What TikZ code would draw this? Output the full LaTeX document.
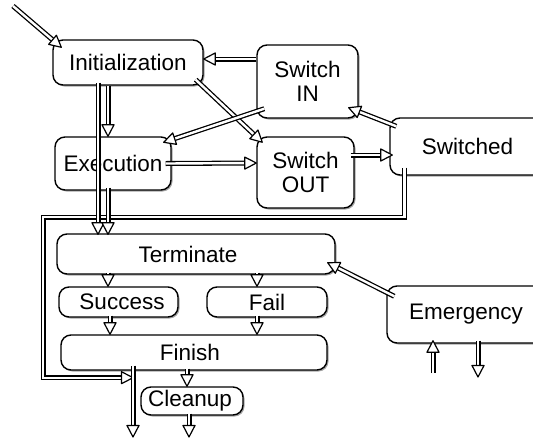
\documentclass[tikz,border=0pt]{standalone}
\usepackage{fontspec}
\setmainfont{Liberation Sans}
\usetikzlibrary{shadows,decorations.markings}
\tikzset{
  box/.style={draw=black, line width=1.4pt, rounded corners=10pt, fill=white,
    drop shadow={shadow xshift=1.5pt, shadow yshift=-1.5pt, opacity=0.35, fill=black},
    inner sep=0pt, align=center, font=\fontsize{22.5}{25}\selectfont},
  dbl/.style={draw=white, line width=2.4pt, shorten >=10pt,
    preaction={draw=black, line width=5pt, shorten >=10pt},
    postaction={decorate, decoration={markings, mark=at position 1 with {
      \draw[black, line width=1.2pt, fill=white, line join=round] (0pt,0pt) -- (-11.5pt,6pt) -- (-11.5pt,-6pt) -- cycle;}}}}
}
\begin{document}
\begin{tikzpicture}[x=1pt,y=-1pt]
\useasboundingbox (0,0) rectangle (533,437);
\clip (0,0) rectangle (533,437);
\node[box, minimum width=155pt, minimum height=57pt] (swd) at (467.5,146.5) {Switched};
\node[box, minimum width=158pt, minimum height=57pt] (emer) at (466,314.5) {Emergency};
\node[box, minimum width=150pt, minimum height=45pt] (init) at (128,62.5) {Initialization};
\node[box, minimum width=101pt, minimum height=73pt] (swin) at (307.5,81.5) {Switch\\[-1pt]IN};
\node[box, minimum width=116pt, minimum height=53pt] (exec) at (113,163.5) {Execution};
\node[box, minimum width=97pt, minimum height=71pt] (swout) at (305.5,172.5) {Switch\\[-1pt]OUT};
\node[box, minimum width=278pt, minimum height=40pt] (term) at (196,254) {\hspace*{-16pt}Terminate};
\node[box, minimum width=119pt, minimum height=30pt] (succ) at (118.5,302) {\hspace*{7pt}Success};
\node[box, minimum width=120pt, minimum height=30pt] (fail) at (267,302) {Fail};
\node[box, minimum width=266pt, minimum height=35pt] (fin) at (194,352.5) {\hspace*{-8pt}Finish};
\node[box, minimum width=102pt, minimum height=28pt] (clean) at (192,401) {\hspace*{-4pt}Cleanup};

\coordinate (in) at (13,6);
\coordinate (lp) at (43,217);
\coordinate (out1) at (133,437);
\coordinate (out2) at (189,437);
\coordinate (up0) at (433,373);
\coordinate (dn1) at (478,377);

% loop from Switched back to the exit line
\draw[dbl] ([xshift=15pt,yshift=8pt]swd.south west) |- (lp) |- ([xshift=-61pt,yshift=-7pt]fin.south);

\draw[dbl] (in) -- ([xshift=9pt,yshift=-8pt]init.north west);
\draw[dbl] ([yshift=22.5pt]swin.west) -- ([yshift=3.5pt]init.east);
\draw[dbl] ([xshift=-8pt,yshift=6pt]init.south east) -- ([xshift=6pt,yshift=-6pt]swout.north west);
\draw[dbl] ([xshift=8pt,yshift=10pt]swin.south west) -- ([xshift=-8pt,yshift=-6pt]exec.north east);
\draw[dbl] ([xshift=-20pt]init.south) -- ([xshift=-5pt]exec.north);
\draw[dbl] ([xshift=-30pt,yshift=3pt]init.south) -- ([xshift=-98pt,yshift=-1pt]term.north);
\draw[dbl] ([xshift=-5pt,yshift=3pt]exec.south) -- ([xshift=-88pt,yshift=-1pt]term.north);
\draw[dbl] ([xshift=-6pt]exec.east) -- ([yshift=9.5pt]swout.west);
\draw[dbl] ([xshift=-4pt,yshift=17.5pt]swout.east) -- ([xshift=3pt,yshift=-8.5pt]swd.west);
\draw[dbl] ([xshift=7pt,yshift=-9pt]swd.north west) -- ([xshift=-10pt,yshift=11pt]swin.south east);
\draw[dbl] ([xshift=-61pt,yshift=5pt]fin.south) -- (out1);
\draw[dbl] ([xshift=-88pt,yshift=2pt]term.south) -- ([xshift=-10.5pt]succ.north);
\draw[dbl] ([xshift=61pt,yshift=2pt]term.south) -- ([xshift=-10pt]fail.north);
\draw[dbl] ([xshift=-8.5pt,yshift=2pt]succ.south) -- ([xshift=-84pt]fin.north);
\draw[dbl] ([xshift=-10pt,yshift=2pt]fail.south) -- ([xshift=63pt]fin.north);
\draw[dbl] ([xshift=-7pt,yshift=2pt]fin.south) -- ([xshift=-5pt]clean.north);
\draw[dbl] ([xshift=-3pt,yshift=2pt]clean.south) -- (out2);
\draw[dbl] ([xshift=8pt,yshift=-11pt]emer.north west) -- ([xshift=-8pt,yshift=12pt]term.south east);
\draw[dbl] (up0) -- ([xshift=-33pt,yshift=3pt]emer.south);
\draw[dbl] ([xshift=12pt,yshift=3pt]emer.south) -- (dn1);
\end{tikzpicture}
\end{document}
